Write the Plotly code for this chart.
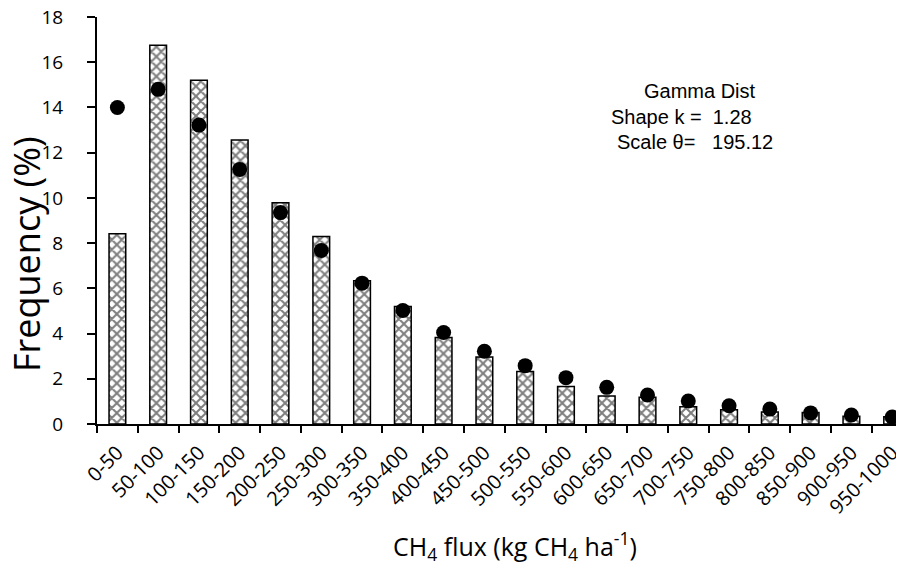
import plotly.graph_objects as go

categories = ["0-50", "50-100", "100-150", "150-200", "200-250", "250-300", "300-350",
              "350-400", "400-450", "450-500", "500-550", "550-600", "600-650", "650-700",
              "700-750", "750-800", "800-850", "850-900", "900-950", "950-1000"]
observed = [8.41, 16.75, 15.2, 12.56, 9.79, 8.29, 6.33, 5.2, 3.83, 2.96, 2.32, 1.66,
            1.24, 1.18, 0.76, 0.63, 0.53, 0.51, 0.34, 0.32]
gamma_fit = [14.0, 14.8, 13.22, 11.26, 9.35, 7.67, 6.23, 5.02, 4.05, 3.22, 2.58, 2.05,
             1.62, 1.28, 1.02, 0.81, 0.66, 0.49, 0.40, 0.31]
y_ticks = [0, 2, 4, 6, 8, 10, 12, 14, 16, 18]
annotation_lines = ["Gamma Dist", "Shape k =  1.28", "Scale θ=   195.12"]

# page body has an 8px margin; work in window pixels and shift
OFF = 8
W, H = 904 - OFF, 562 - OFF
L, R, T, B = 97 - OFF, 0, 17 - OFF, 562 - 424
pw, ph = W - L - R, H - T - B

def px(x):
    return (x - OFF - L) / pw

def py(y):
    return (H - B - (y - OFF)) / ph

font_main = "Open Sans"

fig = go.Figure()
fig.add_trace(go.Bar(
    x=categories, y=observed, width=0.41,
    marker=dict(color="white", line=dict(color="black", width=1.5),
                pattern=dict(shape="x", size=7, solidity=0.5, fgcolor="black", bgcolor="white")),
    showlegend=False,
))
fig.add_trace(go.Scatter(
    x=categories, y=gamma_fit, mode="markers",
    marker=dict(color="black", size=15), showlegend=False, cliponaxis=False,
))

fig.update_layout(
    width=W, height=H,
    margin=dict(l=L, r=R, t=T, b=B, autoexpand=False),
    plot_bgcolor="white", paper_bgcolor="white",
    font=dict(family=font_main, color="black"),
    xaxis=dict(
        type="category", range=[-0.5, 19.29], automargin=False,
        showline=True, linecolor="black", linewidth=2,
        ticks="outside", ticklen=7, tickwidth=2, tickcolor="black",
        tickson="boundaries", tickangle=-45, ticklabelstandoff=7,
        ticklabeloverflow="allow",
        tickfont=dict(size=20, family=font_main),
        showgrid=False, zeroline=False,
    ),
    yaxis=dict(
        range=[0, 18], tickvals=y_ticks, automargin=False,
        showline=True, linecolor="black", linewidth=2,
        ticks="outside", ticklen=8, tickwidth=2, tickcolor="black",
        tickfont=dict(size=19, family=font_main), ticklabelstandoff=20,
        ticklabeloverflow="allow",
        showgrid=False, zeroline=False,
    ),
)

fig.add_annotation(text="Frequency (%)", xref="paper", yref="paper",
                   x=px(26), y=py(254), xanchor="center", yanchor="middle",
                   textangle=-90, showarrow=False,
                   font=dict(size=36, family=font_main))
fig.add_annotation(text="CH<sub>4</sub> flux (kg CH<sub>4</sub> ha<sup>-1</sup>)",
                   xref="paper", yref="paper", x=px(515), y=py(546),
                   xanchor="center", yanchor="middle", showarrow=False,
                   font=dict(size=25, family=font_main))

ann_pos = [(700, 90.7, "center"), (609, 116.7, "left"), (615, 141.7, "left")]
for txt, (ax, ay, anc) in zip(annotation_lines, ann_pos):
    fig.add_annotation(text=txt, xref="paper", yref="paper", x=px(ax), y=py(ay),
                       xanchor=anc, yanchor="middle", showarrow=False,
                       font=dict(size=20, family="Liberation Sans"))

fig.write_html("out.html")
